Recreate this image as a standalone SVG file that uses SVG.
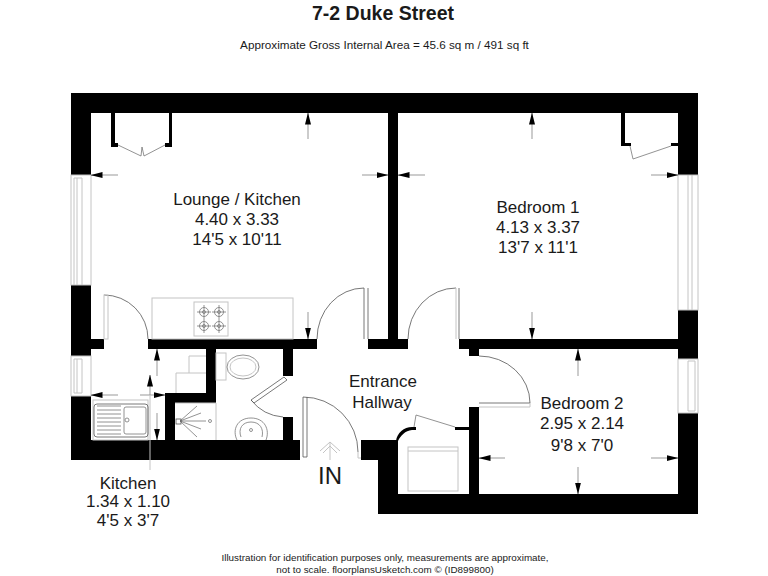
<svg xmlns="http://www.w3.org/2000/svg" width="768" height="576" viewBox="0 0 768 576">
<style>
text{font-family:"Liberation Sans",Arial,sans-serif;fill:#1a1a1a;text-anchor:middle}
.l{font-size:17px}
.w{fill:#000}
.g{fill:none;stroke:#c4c4c4;stroke-width:1}
.t{fill:none;stroke:#777;stroke-width:.8}
.d{fill:none;stroke:#555;stroke-width:.8}
.a{fill:none;stroke:#999;stroke-width:1;marker-end:url(#h)}
</style>
<defs>
<marker id="h" viewBox="0 0 12 8" refX="11.5" refY="4" markerWidth="12" markerHeight="8" markerUnits="userSpaceOnUse" orient="auto"><path d="M0 1 L12 4 L0 7 Z" fill="#000"/></marker>
<g id="hobring"><circle r="4.5" class="t"/><circle r="1.5" class="t"/><path d="M-7 0H7M0-7V7" class="t"/></g>
</defs>
<rect width="768" height="576" fill="#fff"/>
<text x="383" y="20" font-size="19.5" font-weight="bold">7-2 Duke Street</text>
<text x="384.500" y="49" font-size="11.700">Approximate Gross Internal Area = 45.6 sq m / 491 sq ft</text>
<g id="walls" class="w">
<rect x="71" y="93" width="627" height="20"/>
<rect x="71" y="93" width="20" height="82"/>
<rect x="71" y="285" width="20" height="71"/>
<rect x="71" y="396" width="20" height="64"/>
<rect x="678" y="93" width="20" height="82"/>
<rect x="678" y="310" width="20" height="49"/>
<rect x="678" y="413" width="20" height="101"/>
<rect x="71" y="440" width="229" height="20"/>
<rect x="91" y="339" width="13" height="10"/>
<rect x="148" y="339" width="169" height="10"/>
<rect x="368" y="339" width="40" height="10"/>
<rect x="388" y="113" width="10" height="226"/>
<rect x="459" y="339" width="219" height="10"/>
<rect x="469" y="349" width="10" height="7"/>
<rect x="469" y="407" width="10" height="87"/>
<rect x="378" y="494" width="320" height="20"/>
<rect x="361" y="440" width="37" height="20"/>
<rect x="378" y="460" width="20" height="34"/>
<rect x="206" y="349" width="10" height="54"/>
<rect x="165" y="393" width="51" height="10"/>
<rect x="165" y="403" width="10" height="37"/>
<rect x="283" y="349" width="10" height="27"/>
<rect x="283" y="417" width="10" height="23"/>
<path d="M396 441 C397 433 404 427 412 427 V430 C405 431 401 435 398 441 Z"/>
<rect x="412" y="427" width="4" height="3"/>
<rect x="455" y="427" width="14" height="3"/>
<rect x="111" y="113" width="4" height="34"/>
<rect x="111" y="143" width="7" height="4"/>
<rect x="169" y="113" width="3" height="34"/>
<rect x="165" y="143" width="7" height="4"/>
<rect x="621" y="113" width="4" height="33"/>
<rect x="621" y="143" width="10" height="3"/>
<rect x="671" y="143" width="7" height="3"/>
</g>
<g id="windows" class="g">
<rect x="71" y="175" width="20" height="110"/><path d="M74 178V285M77 178V285M82 178V285M74 178H82"/>
<rect x="71" y="356" width="20" height="40"/><path d="M74 359V393M77 359V393M82 359V393M74 359H82M74 393H82"/>
<rect x="678" y="175" width="20" height="135"/><path d="M688 175V310M692 175V310"/>
<rect x="678" y="359" width="20" height="54"/><path d="M688 361V411M695 361V411M688 361H695M688 411H695"/>
</g>
<g id="doors">
<path class="d" d="M104 295A44 44 0 0 1 148 339"/><rect class="g" x="104" y="295" width="4" height="44"/>
<path class="d" d="M364 288A47 51 0 0 0 317 339"/><path class="d" d="M364 288V339M368 288V339"/>
<path class="d" d="M456 288A48 51 0 0 0 408 339"/><path class="g" d="M456 288V339"/><path class="d" d="M459 288V339"/>
<path class="d" d="M479 356A51 47 0 0 1 530 403"/><path class="d" d="M479 403H530"/><path class="g" d="M479 407H530M530 403V407"/>
<path class="d" d="M303 397A55 55 0 0 1 358 452"/><path class="d" d="M303 397V457H307V397"/><path class="g" d="M358 452V458H361"/>
<path class="d" d="M284 377L251 400L254 403L287 380ZM251 400A45 45 0 0 0 283 417"/>
<path class="t" d="M118 145L141 156L142 147L144 156L165 145"/>
<path class="t" d="M630 146L633 159L671 146"/>
<path class="t" d="M414 427L416 415L455 427"/>
</g>
<g id="fittings">
<rect class="g" x="152" y="298" width="141" height="41"/>
<rect class="g" x="194" y="302" width="34" height="34"/>
<use href="#hobring" x="204" y="312"/><use href="#hobring" x="219" y="312"/><use href="#hobring" x="204" y="326"/><use href="#hobring" x="219" y="326"/>
<rect class="g" x="93" y="400" width="55" height="40"/>
<rect class="d" x="94" y="404" width="54" height="33" rx="3"/>
<rect class="t" x="124" y="407" width="22" height="27" rx="2"/>
<circle class="t" cx="127" cy="420" r="2"/>
<path class="t" d="M97 406H121M97 410H121M97 414H121M97 418H121M97 422H121M97 426H121M97 430H121M97 434H121"/>
<path class="g" d="M206 356H189V373M206 373H176V393"/>
<rect class="g" x="216" y="353" width="10" height="27"/>
<ellipse class="t" cx="243" cy="367" rx="16" ry="12"/><ellipse class="g" cx="243" cy="367" rx="13" ry="9"/>
<path class="g" d="M175 403H216V440"/>
<circle class="t" cx="210" cy="421" r="1.5"/>
<path class="t" d="M180 421H206M180 421L197 406M180 421L201 413M180 421L201 429M180 421L197 437"/><rect class="d" x="176" y="419" width="5" height="5"/>
<path class="t" d="M237 440C232 430 237 418 251 418C265 418 270 430 266 440M241 437C238 429 242 422 251 422C260 422 264 429 262 437"/><circle class="t" cx="251" cy="430" r="1.5"/>
<rect class="g" x="408" y="447" width="50" height="44"/><path class="g" d="M408 451H458"/>
</g>
<g id="connectors">
<path class="a" d="M118 175H91"/><path class="a" d="M308 139V113"/><path class="a" d="M362 175H388"/><path class="a" d="M308 312V339"/>
<path class="a" d="M425 175H398"/><path class="a" d="M532 139V113"/><path class="a" d="M651 175H678"/><path class="a" d="M532 312V339"/>
<path class="a" d="M578 376V349"/><path class="a" d="M505 458H479"/><path class="a" d="M651 458H678"/><path class="a" d="M578 467V494"/>
<path class="a" d="M118 395H91"/><path class="a" d="M157 376V349"/><path class="a" d="M150 395V375"/><path class="a" d="M140 395H165"/><path class="a" d="M157 413V440"/>
<path class="g" d="M150 395V470"/>
<path class="g" d="M330 460V442M320 451L330 442L340 451M323 453L330 446L337 453"/>
</g>
<g id="labels">
<text class="l" x="237" y="205">Lounge / Kitchen</text><text class="l" x="237" y="225">4.40 x 3.33</text><text class="l" x="237" y="245">14'5 x 10'11</text>
<text class="l" x="538" y="213">Bedroom 1</text><text class="l" x="538" y="233">4.13 x 3.37</text><text class="l" x="538" y="253">13'7 x 11'1</text>
<text class="l" x="582" y="409">Bedroom 2</text><text class="l" x="582" y="429">2.95 x 2.14</text><text class="l" x="582" y="451">9'8 x 7'0</text>
<text class="l" x="383" y="387">Entrance</text><text class="l" x="382" y="408">Hallway</text>
<text class="l" x="128" y="489">Kitchen</text><text class="l" x="128" y="507">1.34 x 1.10</text><text class="l" x="128" y="526">4'5 x 3'7</text>
<text x="330" y="484" font-size="24">IN</text>
<text x="385" y="561" font-size="9.850">Illustration for identification purposes only, measurements are approximate,</text>
<text x="385" y="573" font-size="9.850">not to scale. floorplansUsketch.com © (ID899800)</text>
</g>
</svg>
